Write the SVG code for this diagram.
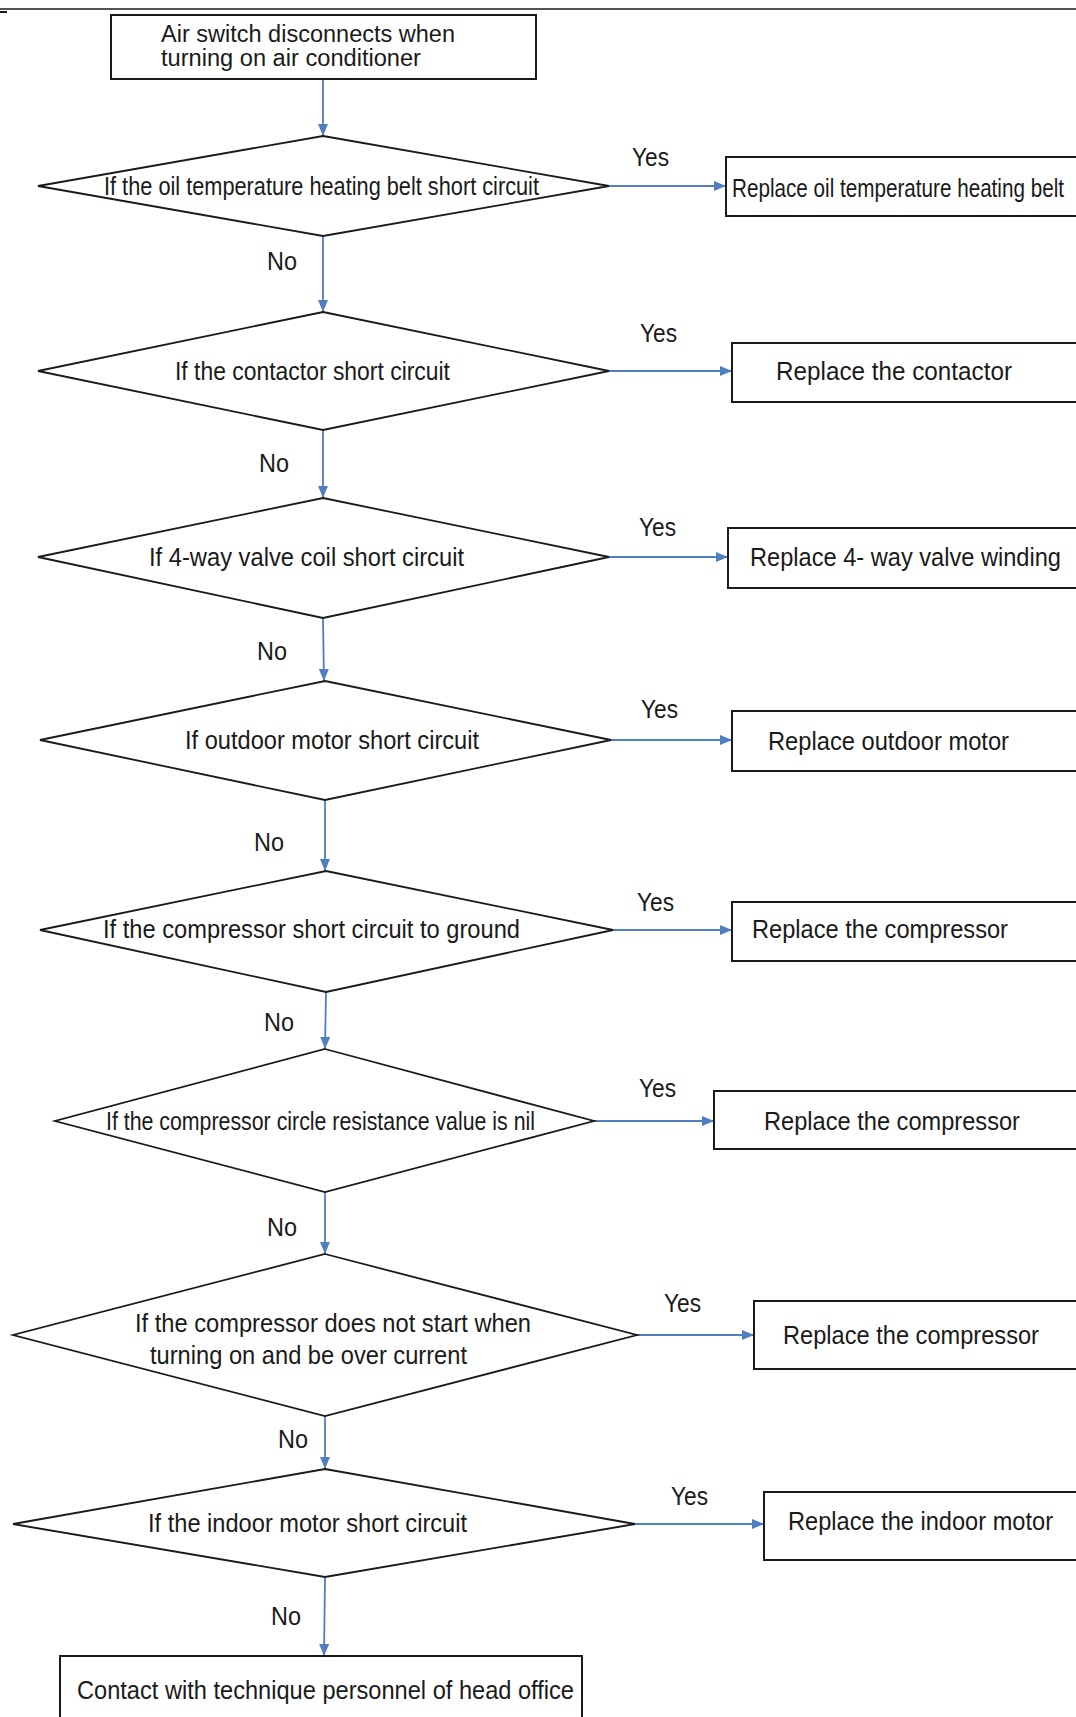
<svg xmlns="http://www.w3.org/2000/svg" width="1076" height="1717" viewBox="0 0 1076 1717">
<style>
.bg{fill:#ffffff}
.box{fill:#ffffff;stroke:#1a1a1a;stroke-width:2}
.dia{fill:#ffffff;stroke:#1a1a1a;stroke-width:1.8}
.t{font-family:"Liberation Sans Narrow","Liberation Sans",Arial,sans-serif;font-size:26px;fill:#1a1a1a}
.s{font-size:23px}
.lbl{font-family:"Liberation Sans Narrow","Liberation Sans",Arial,sans-serif;font-size:26px;fill:#1a1a1a}
.c{stroke:#4f7fc0;stroke-width:1.8;fill:none;marker-end:url(#ah)}
</style>
<defs>
<marker id="ah" viewBox="0 0 12 10" refX="12" refY="5" markerWidth="12" markerHeight="10" markerUnits="userSpaceOnUse" orient="auto">
<path d="M0,0 L12,5 L0,10 z" fill="#4f7fc0"/>
</marker>
</defs>
<rect class="bg" x="0" y="0" width="1076" height="1717"/>
<line x1="0" y1="9" x2="1076" y2="9" stroke="#1a1a1a" stroke-width="1.5"/>
<line x1="0" y1="12" x2="7" y2="12" stroke="#1a1a1a" stroke-width="2"/>

<g id="connectors">
<line class="c" x1="323" y1="79" x2="323" y2="136"/>
<line class="c" x1="323" y1="236" x2="323" y2="312"/>
<line class="c" x1="323" y1="430" x2="323" y2="498"/>
<line class="c" x1="323" y1="618" x2="324" y2="681"/>
<line class="c" x1="325" y1="800" x2="325" y2="871"/>
<line class="c" x1="326" y1="992" x2="325" y2="1049"/>
<line class="c" x1="325" y1="1192" x2="325" y2="1254"/>
<line class="c" x1="325" y1="1416" x2="325" y2="1469"/>
<line class="c" x1="325" y1="1577" x2="324" y2="1656"/>
<line class="c" x1="609" y1="186" x2="726" y2="186"/>
<line class="c" x1="609" y1="371" x2="732" y2="371"/>
<line class="c" x1="609" y1="557" x2="728" y2="557"/>
<line class="c" x1="611" y1="740" x2="732" y2="740"/>
<line class="c" x1="613" y1="930" x2="732" y2="930"/>
<line class="c" x1="594" y1="1121" x2="714" y2="1121"/>
<line class="c" x1="637" y1="1335" x2="754" y2="1335"/>
<line class="c" x1="635" y1="1524" x2="764" y2="1524"/>
<text class="lbl" x="632" y="166" textLength="37" lengthAdjust="spacingAndGlyphs">Yes</text>
<text class="lbl" x="640" y="342" textLength="37" lengthAdjust="spacingAndGlyphs">Yes</text>
<text class="lbl" x="639" y="536" textLength="37" lengthAdjust="spacingAndGlyphs">Yes</text>
<text class="lbl" x="641" y="718" textLength="37" lengthAdjust="spacingAndGlyphs">Yes</text>
<text class="lbl" x="637" y="911" textLength="37" lengthAdjust="spacingAndGlyphs">Yes</text>
<text class="lbl" x="639" y="1097" textLength="37" lengthAdjust="spacingAndGlyphs">Yes</text>
<text class="lbl" x="664" y="1312" textLength="37" lengthAdjust="spacingAndGlyphs">Yes</text>
<text class="lbl" x="671" y="1505" textLength="37" lengthAdjust="spacingAndGlyphs">Yes</text>
<text class="lbl" x="267" y="270" textLength="30" lengthAdjust="spacingAndGlyphs">No</text>
<text class="lbl" x="259" y="472" textLength="30" lengthAdjust="spacingAndGlyphs">No</text>
<text class="lbl" x="257" y="660" textLength="30" lengthAdjust="spacingAndGlyphs">No</text>
<text class="lbl" x="254" y="851" textLength="30" lengthAdjust="spacingAndGlyphs">No</text>
<text class="lbl" x="264" y="1031" textLength="30" lengthAdjust="spacingAndGlyphs">No</text>
<text class="lbl" x="267" y="1236" textLength="30" lengthAdjust="spacingAndGlyphs">No</text>
<text class="lbl" x="278" y="1448" textLength="30" lengthAdjust="spacingAndGlyphs">No</text>
<text class="lbl" x="271" y="1625" textLength="30" lengthAdjust="spacingAndGlyphs">No</text>
</g>

<g id="start">
<rect class="box" x="111" y="15" width="425" height="64"/>
<text class="t s" x="161" y="42" textLength="294" lengthAdjust="spacingAndGlyphs">Air switch disconnects when</text>
<text class="t s" x="161" y="66" textLength="260" lengthAdjust="spacingAndGlyphs">turning on air conditioner</text>
</g>

<g id="d1">
<polygon class="dia" points="323,136 609,186 323,236 38,186"/>
<text class="t" x="104" y="195" textLength="435" lengthAdjust="spacingAndGlyphs">If the oil temperature heating belt short circuit</text>
</g>
<g id="r1">
<rect class="box" x="726" y="157" width="360" height="59"/>
<text class="t" x="732" y="197" textLength="332" lengthAdjust="spacingAndGlyphs">Replace oil temperature heating belt</text>
</g>

<g id="d2">
<polygon class="dia" points="323,312 609,371 323,430 38,371"/>
<text class="t" x="175" y="380" textLength="275" lengthAdjust="spacingAndGlyphs">If the  contactor short circuit</text>
</g>
<g id="r2">
<rect class="box" x="732" y="343" width="360" height="59"/>
<text class="t" x="776" y="380" textLength="236" lengthAdjust="spacingAndGlyphs">Replace the  contactor</text>
</g>

<g id="d3">
<polygon class="dia" points="323,498 609,557 323,618 38,557"/>
<text class="t" x="149" y="566" textLength="315" lengthAdjust="spacingAndGlyphs">If 4-way valve coil short circuit</text>
</g>
<g id="r3">
<rect class="box" x="728" y="528" width="360" height="60"/>
<text class="t" x="750" y="566" textLength="311" lengthAdjust="spacingAndGlyphs">Replace 4- way valve winding</text>
</g>

<g id="d4">
<polygon class="dia" points="325,681 611,740 325,800 40,740"/>
<text class="t" x="185" y="749" textLength="294" lengthAdjust="spacingAndGlyphs">If outdoor motor short circuit</text>
</g>
<g id="r4">
<rect class="box" x="732" y="711" width="360" height="60"/>
<text class="t" x="768" y="750" textLength="241" lengthAdjust="spacingAndGlyphs">Replace outdoor motor</text>
</g>

<g id="d5">
<polygon class="dia" points="326,871 613,930 326,992 40,930"/>
<text class="t" x="103" y="938" textLength="417" lengthAdjust="spacingAndGlyphs">If the compressor short circuit to ground</text>
</g>
<g id="r5">
<rect class="box" x="732" y="902" width="360" height="59"/>
<text class="t" x="752" y="938" textLength="256" lengthAdjust="spacingAndGlyphs">Replace the compressor</text>
</g>

<g id="d6">
<polygon class="dia" points="325,1049 594,1121 325,1192 55,1121"/>
<text class="t" x="106" y="1130" textLength="429" lengthAdjust="spacingAndGlyphs">If the compressor circle resistance value  is nil</text>
</g>
<g id="r6">
<rect class="box" x="714" y="1091" width="370" height="58"/>
<text class="t" x="764" y="1130" textLength="256" lengthAdjust="spacingAndGlyphs">Replace the compressor</text>
</g>

<g id="d7">
<polygon class="dia" points="325,1254 637,1335 325,1416 13,1335"/>
<text class="t" x="135" y="1332" textLength="396" lengthAdjust="spacingAndGlyphs">If the compressor does not start when</text>
<text class="t" x="150" y="1364" textLength="317" lengthAdjust="spacingAndGlyphs">turning on and be over current</text>
</g>
<g id="r7">
<rect class="box" x="754" y="1301" width="330" height="68"/>
<text class="t" x="783" y="1344" textLength="256" lengthAdjust="spacingAndGlyphs">Replace the compressor</text>
</g>

<g id="d8">
<polygon class="dia" points="325,1469 635,1524 325,1577 13,1524"/>
<text class="t" x="148" y="1532" textLength="319" lengthAdjust="spacingAndGlyphs">If the indoor motor short circuit</text>
</g>
<g id="r8">
<rect class="box" x="764" y="1492" width="320" height="68"/>
<text class="t" x="788" y="1530" textLength="265" lengthAdjust="spacingAndGlyphs">Replace the indoor motor</text>
</g>

<g id="end">
<rect class="box" x="60" y="1656" width="522" height="70"/>
<text class="t" x="77" y="1699" textLength="497" lengthAdjust="spacingAndGlyphs">Contact with technique personnel of head office</text>
</g>
</svg>
